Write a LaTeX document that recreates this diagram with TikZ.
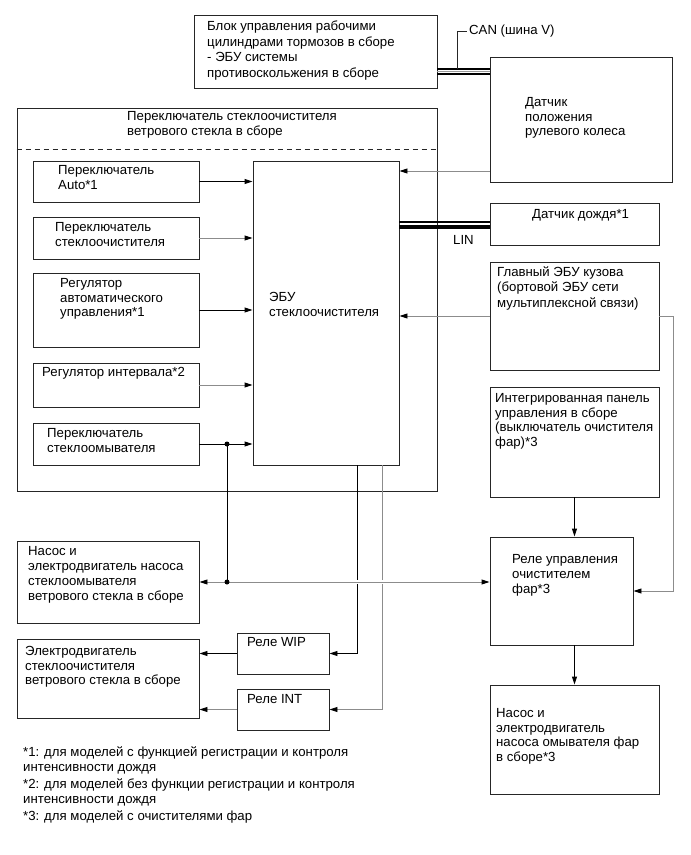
\documentclass[tikz,border=0pt]{standalone}
\usepackage{fontspec}
\setmainfont{Liberation Sans}
\usetikzlibrary{arrows.meta,calc}
\begin{document}
\begin{tikzpicture}[x=1pt,y=-1pt,
  box/.style={draw=black!85,line width=0.9pt,inner sep=0pt},
  txt/.style={anchor=north west,inner sep=0pt,align=left,font=\fontsize{13.2}{14.7}\selectfont,yshift=7pt},
  lbl/.style={anchor=west,inner sep=0pt,font=\fontsize{13.2}{14.7}\selectfont},
  blk/.style={draw=black,line width=0.9pt},
  gry/.style={draw=black!45,line width=0.9pt},
  arr/.style={-{Triangle[length=8pt,width=5pt,color=black]}},
  arrb/.style={{Triangle[length=8pt,width=5pt,color=black]}-{Triangle[length=8pt,width=5pt,color=black]}}
]
\useasboundingbox (0,0) rectangle (691,855);

% ---------- boxes ----------
\node[box,minimum width=243pt,minimum height=73pt] (brake) at (315.5,51.5) {};
\node[box,minimum width=182pt,minimum height=125pt] (steer) at (581,119.5) {};
\node[box,minimum width=420pt,minimum height=383pt] (outer) at (227,299.5) {};
\node[box,minimum width=166pt,minimum height=41pt] (auto) at (116,181.5) {};
\node[box,minimum width=166pt,minimum height=42pt] (wsw) at (116,238) {};
\node[box,minimum width=166pt,minimum height=74pt] (actl) at (116,310) {};
\node[box,minimum width=166pt,minimum height=44pt] (intv) at (116,385) {};
\node[box,minimum width=166pt,minimum height=42pt] (wash) at (116,444) {};
\node[box,minimum width=146pt,minimum height=304pt] (ecu) at (326,313) {};
\node[box,minimum width=169pt,minimum height=42pt] (rain) at (574.5,224) {};
\node[box,minimum width=169pt,minimum height=108pt] (body) at (574.5,316) {};
\node[box,minimum width=169pt,minimum height=110pt] (panel) at (574.5,442) {};
\node[box,minimum width=143pt,minimum height=108pt] (hrel) at (561.5,591) {};
\node[box,minimum width=169pt,minimum height=109pt] (hpump) at (574.5,739.5) {};
\node[box,minimum width=182pt,minimum height=82pt] (pump) at (108,582) {};
\node[box,minimum width=182pt,minimum height=79pt] (motor) at (108,678.5) {};
\node[box,minimum width=92pt,minimum height=41pt] (wip) at (283,653.5) {};
\node[box,minimum width=92pt,minimum height=41pt] (int) at (283,709.5) {};

% dashed separator in outer box
\coordinate (dsh) at (0,149);
\draw[black!85,line width=0.8pt,dash pattern=on 5pt off 4pt] (outer.west |- dsh) -- (outer.east |- dsh);

% ---------- texts ----------
\node[txt,font=\fontsize{13.2}{15.6}\selectfont] (tbrake) at (207,26.5) {\strut Блок управления рабочими\\цилиндрами тормозов в сборе\\- ЭБУ системы\\противоскольжения в сборе};
\node[txt] (tsteer) at (525,103) {\strut Датчик\\положения\\рулевого колеса};
\node[txt] (touter) at (127,117) {\strut Переключатель стеклоочистителя\\ветрового стекла в сборе};
\node[txt] (tauto) at (58,171) {\strut Переключатель\\Auto*1};
\node[txt] (twsw) at (55,228) {\strut Переключатель\\стеклоочистителя};
\node[txt] (tactl) at (60,284) {\strut Регулятор\\автоматического\\управления*1};
\node[txt] (tintv) at (42,373) {\strut Регулятор интервала*2};
\node[txt] (twash) at (47,434) {\strut Переключатель\\стеклоомывателя};
\node[txt] (tecu) at (269,298) {\strut ЭБУ\\стеклоочистителя};
\node[txt] (train) at (532,215.5) {\strut Датчик дождя*1};
\node[txt,font=\fontsize{13.2}{15.5}\selectfont] (tbody) at (497,272) {\strut Главный ЭБУ кузова\\(бортовой ЭБУ сети\\мультиплексной связи)};
\node[txt] (tpanel) at (495,399) {\strut Интегрированная панель\\управления в сборе\\(выключатель очистителя\\фар)*3};
\node[txt,font=\fontsize{13.2}{15}\selectfont] (threl) at (512,560) {\strut Реле управления\\очистителем\\фар*3};
\node[txt] (thpump) at (496,714) {\strut Насос и\\электродвигатель\\насоса омывателя фар\\в сборе*3};
\node[txt,font=\fontsize{13.2}{15}\selectfont] (tpump) at (28,552) {\strut Насос и\\электродвигатель насоса\\стеклоомывателя\\ветрового стекла в сборе};
\node[txt] (tmotor) at (25,652) {\strut Электродвигатель\\стеклоочистителя\\ветрового стекла в сборе};
\node[txt] (twip) at (247,643) {\strut Реле WIP};
\node[txt] (tint) at (247,700) {\strut Реле INT};
\node[txt,font=\fontsize{13.2}{15}\selectfont] (fn1) at (23,753) {\strut *1: для моделей с функцией регистрации и контроля\\интенсивности дождя};
\node[txt,font=\fontsize{13.2}{15}\selectfont] (fn2) at (23,785) {\strut *2: для моделей без функции регистрации и контроля\\интенсивности дождя};
\node[txt] (fn3) at (23,817) {\strut *3: для моделей с очистителями фар};

% ---------- CAN bus ----------
\coordinate (canA) at (0,68.5);
\coordinate (canM) at (0,71.3);
\coordinate (canB) at (0,74);
\coordinate (canV) at (457,68.5);
\draw[black,line width=2pt] (brake.east |- canA) -- (steer.west |- canA);
\draw[black,line width=2pt] (brake.east |- canB) -- (steer.west |- canB);
\draw[black!40,line width=0.6pt] (brake.east |- canM) -- (steer.west |- canM);
\node[lbl] (canlbl) at (469,31) {CAN (шина V)};
\draw[black!85,line width=0.9pt] (canV) |- ([xshift=-2pt]canlbl.west);

% ---------- LIN bus ----------
\coordinate (linA) at (0,222);
\coordinate (linB) at (0,227);
\draw[black,line width=1.8pt] (ecu.east |- linA) -- (rain.west |- linA);
\draw[black,line width=4pt] (ecu.east |- linB) -- (rain.west |- linB);
\node[lbl] (linlbl) at (453,240) {LIN};

% ---------- switch inputs ----------
\draw[blk,arr] (auto.east) -- (auto.east -| ecu.west);
\draw[gry,arr] (wsw.east) -- (wsw.east -| ecu.west);
\draw[blk,arr] (actl.east) -- (actl.east -| ecu.west);
\draw[gry,arr] (intv.east) -- (intv.east -| ecu.west);
\draw[blk,arr] (wash.east) -- (wash.east -| ecu.west);

% ---------- steering and body ECU ----------
\coordinate (y171) at (0,171);
\coordinate (c673) at (673,0);
\draw[gry,arr] (steer.west |- y171) -- (ecu.east |- y171);
\draw[gry,arr] (body.west) -- (ecu.east |- body.west);
\draw[gry,arr] (body.east) -| (c673 |- hrel.east) -- (hrel.east);

% ---------- headlamp chain ----------
\draw[blk,arr] (panel.south) -- (panel.south |- hrel.north);
\draw[blk,arr] (hrel.south -| panel.south) -- (hpump.north -| panel.south);

% ---------- ECU outputs ----------
\coordinate (c357) at (357,0);
\coordinate (c382) at (382,0);
\draw[blk,arr] (ecu.south -| c357) |- (wip.east);
\draw[gry,arr] (ecu.south -| c382) |- (int.east);
\draw[blk,arr] (wip.west) -- (motor.east |- wip.west);
\draw[gry,arr] (int.west) -- (motor.east |- int.west);

% ---------- washer pump line ----------
\coordinate (jtop) at (227,444);
\coordinate (jbot) at (227,582);
\coordinate (g1) at (330,582);
\coordinate (g2) at (410,582);
\draw[blk] (jtop) -- (jbot);
\draw[white,line width=4pt] (g1) -- (g2);
\draw[gry,arrb] (pump.east) -- (hrel.west |- pump.east);
\fill (jtop) circle (2.5pt);
\fill (jbot) circle (2.5pt);
\end{tikzpicture}
\end{document}
